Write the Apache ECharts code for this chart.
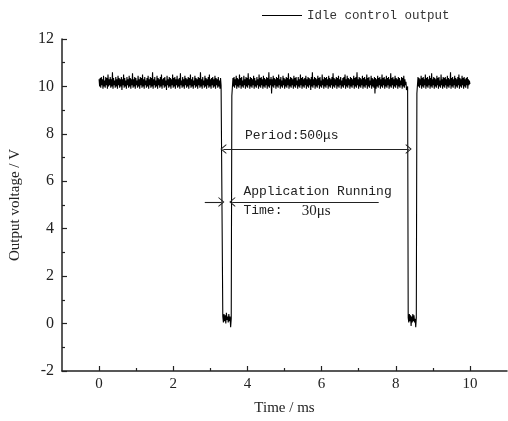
<!DOCTYPE html>
<html><head><meta charset="utf-8">
<script src="https://cdn.jsdelivr.net/npm/echarts@6/dist/echarts.min.js"></script>
<style>html,body{margin:0;padding:0;background:#fff}#c{width:508px;height:421px}</style>
</head><body><div id="c"></div>
<script>
// Time segments (ms) and hand-read voltage samples (V)
const seriesName = 'Idle control output';
const highSeg1Span = [0.0, 3.29];
const highSeg1 = [
10.3,10.0,10.35,9.95,10.4,10.05,10.3,9.9,10.45,10.0,
10.25,9.95,10.4,10.05,10.35,9.9,10.5,10.0,10.3,10.05,
10.4,9.95,10.3,10.0,10.6,9.9,10.35,10.05,10.25,9.95,
10.4,10.0,10.3,9.9,10.45,10.05,10.35,9.95,10.3,10.0,
10.4,9.85,10.3,10.05,10.5,9.95,10.35,10.0,10.25,9.9,
10.4,10.05,10.3,9.95,10.45,10.0,10.35,9.9,10.3,10.05,
10.55,9.95,10.3,10.0,10.4,9.9,10.35,10.05,10.25,9.95,
10.45,10.0,10.3,9.9,10.4,10.05,10.35,9.95,10.5,10.0,
10.3,9.9,10.4,10.05,10.25,9.95,10.35,10.0,10.45,9.9,
10.3,10.05,10.4,9.95,10.35,10.0,10.6,9.9,10.3,10.05,
10.4,9.95,10.25,10.0,10.45,9.9,10.35,10.05,10.3,9.95,
10.4,10.0,10.5,9.9,10.3,10.05,10.35,9.95,10.4,10.0,
10.25,9.85,10.45,10.05,10.3,9.95,10.4,10.0,10.35,9.9,
10.3,10.05,10.5,9.95,10.35,10.0,10.4,9.9,10.3,10.05,
10.45,9.95,10.3,10.0,10.35,9.9,10.55,10.05,10.25,9.95,
10.4,10.0,10.3,9.9,10.45,10.05,10.35,9.95,10.3,10.0,
10.4,9.9,10.35,10.05,10.5,9.95,10.3,10.0,10.4,9.9,
10.25,10.05,10.45,9.95,10.35,10.0,10.3,9.9,10.4,10.05,
10.35,9.95,10.6,10.0,10.3,9.9,10.4,10.05,10.25,9.95,
10.45,10.0,10.35,9.9,10.3,10.05,10.4,9.95,10.5,10.0,
10.3,9.9,10.35,10.05,10.4,9.95,10.3,10.0,10.45,9.9,
10.35,10.05,10.3,9.95,10.4,10.0,10.25,9.9,10.35,10.05];
const lowSeg1Span = [3.32, 3.58];
const lowSeg1 = [10.1,0.3,0.05,0.4,0.1,0.35,0.0,0.45,0.15,0.3,0.05,0.4,0.1,0.3,-0.15,0.2,9.6];
const highSeg2Span = [3.61, 8.29];
const highSeg2 = [
10.35,10.0,10.4,9.95,10.3,10.05,10.45,9.9,10.35,10.0,
10.3,9.95,10.5,10.05,10.35,9.9,10.4,10.0,10.25,9.95,
10.45,10.05,10.3,9.9,10.4,10.0,10.35,9.95,10.55,10.05,
10.3,9.9,10.4,10.0,10.35,9.95,10.3,10.05,10.45,9.9,
10.35,10.0,10.25,9.95,10.4,10.05,10.3,9.9,10.5,10.0,
10.35,9.95,10.4,10.05,10.3,9.9,10.45,10.0,10.35,9.95,
10.3,10.05,10.4,9.9,10.35,10.0,10.6,9.95,10.3,10.05,
10.4,9.7,10.3,10.0,10.45,9.95,10.35,10.05,10.3,9.9,
10.4,10.0,10.35,9.95,10.5,10.05,10.3,9.9,10.4,10.0,
10.25,9.95,10.45,10.05,10.35,9.9,10.3,10.0,10.4,9.95,
10.35,10.05,10.55,9.9,10.3,10.0,10.4,9.95,10.35,10.05,
10.3,9.9,10.45,10.0,10.35,9.95,10.4,10.05,10.25,9.9,
10.4,10.0,10.3,9.95,10.5,10.05,10.35,9.9,10.4,10.0,
10.3,9.95,10.35,10.05,10.45,9.9,10.3,10.0,10.4,9.95,
10.35,10.05,10.3,9.85,10.4,10.0,10.6,9.95,10.3,10.05,
10.4,9.9,10.35,10.0,10.3,9.95,10.45,10.05,10.35,9.9,
10.4,10.0,10.25,9.95,10.5,10.05,10.3,9.9,10.4,10.0,
10.35,9.95,10.4,10.05,10.3,9.9,10.45,10.0,10.35,9.95,
10.3,10.05,10.4,9.9,10.55,10.0,10.35,9.95,10.3,10.05,
10.4,9.9,10.35,10.0,10.45,9.95,10.3,10.05,10.4,9.9,
10.25,10.0,10.35,9.95,10.4,10.05,10.5,9.9,10.3,10.0,
10.45,9.95,10.35,10.05,10.3,9.9,10.4,10.0,10.35,9.95,
10.3,10.05,10.45,9.9,10.35,10.0,10.4,9.95,10.6,10.05,
10.3,9.9,10.4,10.0,10.35,9.95,10.3,10.05,10.45,9.9,
10.35,10.0,10.4,9.95,10.3,10.05,10.5,9.9,10.35,10.0,
10.4,9.95,10.25,10.05,10.45,9.9,10.35,10.0,10.3,9.95,
10.4,9.7,10.35,9.9,10.3,10.0,10.45,9.95,10.35,10.05,
10.4,9.9,10.3,10.0,10.5,9.95,10.35,10.05,10.4,9.9,
10.3,10.0,10.45,9.95,10.35,10.05,10.4,9.9,10.3,10.0,
10.55,9.95,10.35,10.05,10.4,9.9,10.3,10.0,10.45,9.95,
10.35,10.05,10.3,9.9,10.4,10.0,10.35,9.95,10.25,10.05,
10.4,9.9,10.35,10.0,10.45,9.95,10.3,10.05,10.2,9.85];
const lowSeg2Span = [8.32, 8.57];
const lowSeg2 = [10.0,0.25,0.05,0.4,0.1,0.35,-0.1,0.3,0.05,0.4,0.1,0.35,0.05,0.2,-0.15,0.25,9.7];
const highSeg3Span = [8.60, 10.0];
const highSeg3 = [
10.4,10.0,10.35,9.95,10.3,10.05,10.45,9.9,10.35,10.0,
10.4,9.95,10.3,10.05,10.5,9.9,10.35,10.0,10.4,9.95,
10.3,10.05,10.45,9.9,10.35,10.0,10.55,9.95,10.3,10.05,
10.4,9.9,10.35,10.0,10.3,9.95,10.45,10.05,10.35,9.9,
10.4,10.0,10.25,9.95,10.5,10.05,10.3,9.9,10.4,10.0,
10.35,9.95,10.4,10.05,10.3,9.9,10.45,10.0,10.35,9.95,
10.3,10.05,10.6,9.9,10.35,10.0,10.4,9.95,10.3,10.05,
10.45,9.9,10.35,10.0,10.3,9.95,10.4,10.05,10.5,9.9,
10.35,10.0,10.3,9.95,10.45,10.05,10.35,9.9,10.4,10.0,
10.3,9.95,10.35,10.05,10.4,9.9,10.3,10.05,10.25,10.1];

const xMajorTicks = [0, 2, 4, 6, 8, 10];
const xMinorTicks = [1, 3, 5, 7, 9];

// annotation anchors in data coordinates
const periodArrow = [[3.35, 7.36], [8.35, 7.36]];
const runInArrow = [[2.85, 5.13], [3.30, 5.13]];
const runLine = [[3.59, 5.13], [7.54, 5.13]];
const annotations = [
  {text: 'Period:500\u03bcs', at: [3.92, 7.91], font: 'mono'},
  {text: 'Application Running', at: [3.88, 5.56], font: 'mono'},
  {text: 'Time:', at: [3.88, 4.75], font: 'mono'},
  {text: '30\u03bcs', at: [5.45, 4.75], font: 'serif'}
];

function spread(vals, span) {
  const n = vals.length;
  return vals.map((v, i) => [span[0] + (span[1] - span[0]) * i / (n - 1), v]);
}
const data = [].concat(
  spread(highSeg1, highSeg1Span), spread(lowSeg1, lowSeg1Span),
  spread(highSeg2, highSeg2Span), spread(lowSeg2, lowSeg2Span),
  spread(highSeg3, highSeg3Span));

const chevron = 'path://M0,0 L10,10 L7.6,10 L0,2.6 L-7.6,10 L-10,10 Z';
const AX = '#222';
const serif = 'Liberation Serif';
const mono = 'Liberation Mono';

const chart = echarts.init(document.getElementById('c'), null, {renderer: 'canvas'});
chart.setOption({
  animation: false,
  backgroundColor: '#fff',
  grid: {left: 60, right: 1, top: 39, bottom: 50, containLabel: false},
  legend: {
    data: [seriesName], left: 257, top: 4, icon: 'rect', itemWidth: 40, itemHeight: 1,
    textStyle: {fontFamily: mono, fontSize: 12.5, color: '#333'}
  },
  xAxis: [{
    type: 'value', min: -1, max: 11, position: 'bottom',
    name: 'Time / ms', nameLocation: 'middle', nameGap: 30,
    nameTextStyle: {fontFamily: serif, fontSize: 15, color: AX},
    axisLine: {show: true, onZero: false, lineStyle: {color: AX, width: 1.5}},
    axisTick: {show: true, inside: true, length: 5, customValues: xMajorTicks, lineStyle: {color: AX, width: 1.2}},
    axisLabel: {customValues: xMajorTicks, margin: 6, fontFamily: serif, fontSize: 15, color: AX},
    splitLine: {show: false}
  }, {
    type: 'value', min: -1, max: 11, position: 'bottom',
    axisLine: {show: false, onZero: false},
    axisTick: {show: true, inside: true, length: 3, customValues: xMinorTicks, lineStyle: {color: AX, width: 1.2}},
    axisLabel: {show: false}, splitLine: {show: false}
  }],
  yAxis: {
    type: 'value', min: -2, max: 12, interval: 2,
    name: 'Output voltage / V', nameLocation: 'middle', nameGap: 39,
    nameTextStyle: {fontFamily: serif, fontSize: 15, color: AX},
    axisLine: {show: true, onZero: false, lineStyle: {color: AX, width: 1.5}},
    axisTick: {show: true, inside: true, length: 5, lineStyle: {color: AX, width: 1.2}},
    minorTick: {show: true, splitNumber: 2, length: 3, lineStyle: {color: AX, width: 1.2}},
    axisLabel: {margin: 8, fontFamily: serif, fontSize: 16, color: AX},
    splitLine: {show: false}, minorSplitLine: {show: false}
  },
  series: [{
    name: seriesName, type: 'line', data: data, showSymbol: false, symbol: 'none',
    lineStyle: {color: '#000', width: 1.1}, itemStyle: {color: '#000'},
    markLine: {
      silent: true, symbolSize: [10, 6],
      lineStyle: {type: 'solid', color: AX, width: 1.1},
      label: {show: false},
      data: [
        [{coord: periodArrow[0], symbol: chevron}, {coord: periodArrow[1], symbol: chevron}],
        [{coord: runInArrow[0], symbol: 'none'}, {coord: runInArrow[1], symbol: chevron}],
        [{coord: runLine[0], symbol: chevron}, {coord: runLine[1], symbol: 'none'}]
      ]
    },
    markPoint: {
      silent: true, symbol: 'circle', symbolSize: 1,
      itemStyle: {color: 'rgba(0,0,0,0)'},
      data: annotations.map(a => ({
        coord: a.at,
        label: {
          show: true, formatter: a.text, position: 'right', distance: 0,
          fontFamily: a.font === 'mono' ? mono : serif,
          fontSize: a.font === 'mono' ? 13 : 15, color: '#222'
        }
      }))
    }
  }]
});
</script></body></html>
